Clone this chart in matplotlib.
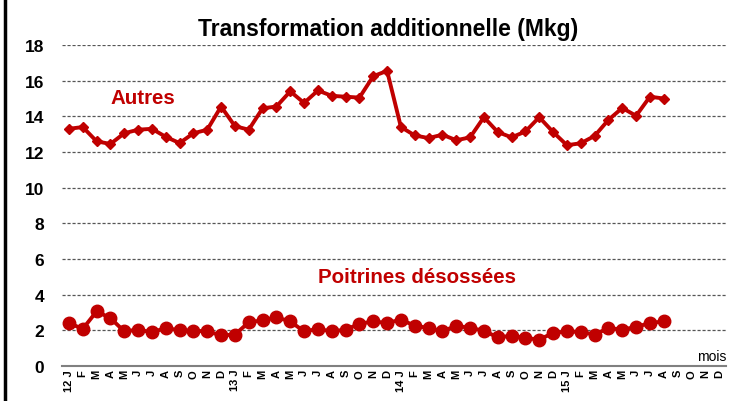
import matplotlib
matplotlib.use('Agg')
import matplotlib.pyplot as plt
from matplotlib.lines import Line2D

plt.rcParams['font.family'] = ['Liberation Sans', 'DejaVu Sans']

# month labels, Jan 2012 .. Dec 2015
months = ['J', 'F', 'M', 'A', 'M', 'J', 'J', 'A', 'S', 'O', 'N', 'D']
years = ['12', '13', '14', '15']
tick_labels = []
for yr in years:
    for i, m in enumerate(months):
        tick_labels.append(f'{yr} {m}' if i == 0 else m)

autres = [13.3, 13.4, 12.6, 12.45, 13.05, 13.25, 13.3, 12.85, 12.5, 13.05, 13.25, 14.55,
          13.45, 13.25, 14.45, 14.55, 15.4, 14.75, 15.45, 15.15, 15.1, 15.05, 16.25, 16.55,
          13.4, 12.93, 12.78, 12.97, 12.66, 12.82, 13.95, 13.12, 12.82, 13.15, 13.95, 13.12,
          12.38, 12.49, 12.9, 13.8, 14.47, 14.03, 15.1, 15.0]
poitrines = [2.41, 2.08, 3.06, 2.69, 1.94, 2.04, 1.89, 2.13, 2.0, 1.98, 1.94, 1.72,
             1.76, 2.45, 2.56, 2.73, 2.5, 1.94, 2.08, 1.94, 2.04, 2.36, 2.5, 2.41,
             2.6, 2.26, 2.13, 1.94, 2.26, 2.13, 1.98, 1.6, 1.7, 1.57, 1.48, 1.85,
             1.94, 1.91, 1.76, 2.13, 2.04, 2.19, 2.41, 2.5]

RED = '#C00000'

fig = plt.figure(figsize=(7.34, 4.02), dpi=100)
ax = fig.add_axes([62 / 734, 1 - 367 / 402, 664 / 734, 321 / 402])

x = list(range(len(tick_labels)))
ax.plot(x[:len(autres)], autres, color=RED, lw=2.8, marker='D', ms=5, zorder=3)
ax.plot(x[:len(poitrines)], poitrines, color=RED, lw=2.8, marker='o', ms=9, zorder=3)

ax.set_xlim(-0.5, len(tick_labels) - 0.5)
ax.set_ylim(0, 18)
ax.set_yticks(range(0, 19, 2))
ax.set_yticklabels([str(v) for v in range(0, 19, 2)], fontsize=12.5, fontweight='bold')
ax.set_xticks(x)
ax.set_xticklabels(tick_labels, rotation=90, fontsize=8, fontweight='bold', va='top')
ax.tick_params(axis='x', length=0, pad=2)
ax.tick_params(axis='y', length=0, pad=13)

for v in range(2, 19, 2):
    ax.axhline(v, color='#555555', lw=0.9, ls=(0, (2.5, 1.5)), zorder=1)

for s in ['top', 'right', 'left']:
    ax.spines[s].set_visible(False)
ax.spines['bottom'].set_color('#808080')
ax.spines['bottom'].set_linewidth(1.5)

ax.text(2.97, 15.07, 'Autres', color=RED, fontsize=14.8, fontweight='bold',
        ha='left', va='center')
ax.text(18.0, 5.04, 'Poitrines désossées', color=RED, fontsize=14.8,
        fontweight='bold', ha='left', va='center')
ax.text(1.0, 0.01, 'mois', transform=ax.transAxes, fontsize=10,
        ha='right', va='bottom')

fig.text(388 / 734, 1 - 36 / 402, 'Transformation additionnelle (Mkg)',
         fontsize=16.5, fontweight='bold', ha='center', va='baseline')

fig.add_artist(Line2D([4.5 / 734, 4.5 / 734], [0, 1], color='black', lw=2.5))

fig.savefig('out.png', dpi=100)
